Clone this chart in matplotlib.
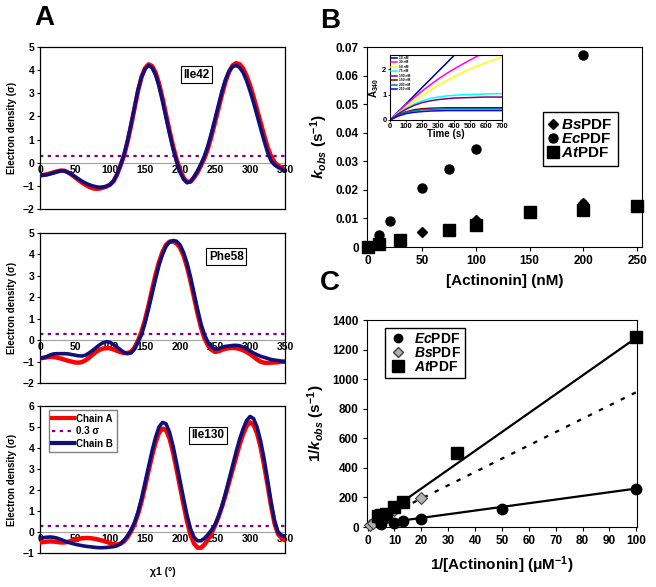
import numpy as np
import matplotlib
matplotlib.use('Agg')
from matplotlib import pyplot as plt
from matplotlib import transforms
from matplotlib.lines import Line2D

plt.rcParams['font.family'] = ['Liberation Sans', 'DejaVu Sans']
plt.rcParams['font.weight'] = 'bold'
plt.rcParams['axes.labelweight'] = 'bold'
plt.rcParams['mathtext.fontset'] = 'custom'
plt.rcParams['mathtext.rm'] = 'Liberation Sans:bold'
plt.rcParams['mathtext.it'] = 'Liberation Sans:italic:bold'
plt.rcParams['mathtext.bf'] = 'Liberation Sans:bold'

# ---- panel A: electron density vs chi1 (every 5 deg) ----
chi = list(range(0, 351, 5))
ile42_a = [-0.55, -0.53, -0.5, -0.46, -0.41, -0.37, -0.34, -0.35, -0.42, -0.52,
           -0.63, -0.75, -0.86, -0.96, -1.04, -1.1, -1.13, -1.12, -1.08, -1.03,
           -0.95, -0.8, -0.52, -0.12, 0.3, 0.9, 1.6, 2.35, 3.1, 3.7,
           4.08, 4.25, 4.18, 3.9, 3.42, 2.78, 2.08, 1.38, 0.72, 0.15,
           -0.3, -0.65, -0.82, -0.82, -0.65, -0.42, -0.12, 0.2, 0.62, 1.15,
           1.75, 2.35, 2.95, 3.5, 3.92, 4.2, 4.3, 4.26, 4.08, 3.76,
           3.35, 2.85, 2.3, 1.75, 1.2, 0.68, 0.28, 0.02, -0.12, -0.22,
           -0.3]
ile42_b = [-0.55, -0.54, -0.52, -0.48, -0.44, -0.39, -0.36, -0.36, -0.42, -0.5,
           -0.6, -0.7, -0.8, -0.88, -0.95, -1.0, -1.04, -1.06, -1.05, -1.02,
           -0.95, -0.8, -0.5, -0.1, 0.35, 0.95, 1.65, 2.4, 3.15, 3.7,
           4.05, 4.2, 4.1, 3.8, 3.3, 2.65, 1.95, 1.25, 0.6, 0.05,
           -0.4, -0.72, -0.87, -0.82, -0.6, -0.35, -0.05, 0.3, 0.75, 1.3,
           1.9, 2.5, 3.1, 3.6, 3.95, 4.15, 4.2, 4.12, 3.9, 3.55,
           3.1, 2.6, 2.05, 1.5, 0.95, 0.45, 0.08, -0.1, -0.2, -0.28,
           -0.36]
phe58_a = [-0.85, -0.82, -0.8, -0.78, -0.79, -0.82, -0.86, -0.91, -0.96, -1.0,
           -1.04, -1.05, -1.02, -0.94, -0.82, -0.68, -0.55, -0.45, -0.39, -0.37,
           -0.38, -0.43, -0.5, -0.56, -0.6, -0.6, -0.54, -0.35, -0.02, 0.4,
           0.95, 1.62, 2.35, 3.05, 3.65, 4.12, 4.45, 4.6, 4.6, 4.52,
           4.32, 3.95, 3.42, 2.75, 2.0, 1.25, 0.58, 0.08, -0.25, -0.45,
           -0.55, -0.52, -0.45, -0.4, -0.37, -0.36, -0.37, -0.41, -0.47, -0.55,
           -0.65, -0.77, -0.9, -1.0, -1.05, -1.06, -1.05, -1.04, -1.03, -1.01,
           -1.0]
phe58_b = [-0.85, -0.82, -0.76, -0.68, -0.64, -0.63, -0.63, -0.63, -0.64, -0.67,
           -0.7, -0.73, -0.74, -0.7, -0.6, -0.48, -0.35, -0.22, -0.12, -0.07,
           -0.1, -0.2, -0.32, -0.45, -0.57, -0.63, -0.6, -0.42, -0.1, 0.25,
           0.8, 1.45, 2.15, 2.85, 3.5, 4.0, 4.38, 4.58, 4.65, 4.62,
           4.45, 4.1, 3.6, 2.95, 2.2, 1.45, 0.75, 0.25, -0.1, -0.32,
           -0.42, -0.4, -0.33, -0.29, -0.27, -0.25, -0.24, -0.26, -0.32, -0.4,
           -0.5, -0.6, -0.68, -0.75, -0.8, -0.85, -0.9, -0.93, -0.95, -0.98,
           -1.0]
ile130_a = [-0.5, -0.48, -0.46, -0.45, -0.46, -0.48, -0.5, -0.5, -0.47, -0.42,
            -0.37, -0.33, -0.3, -0.29, -0.29, -0.31, -0.34, -0.38, -0.42, -0.47,
            -0.53, -0.58, -0.6, -0.56, -0.45, -0.25, 0.02, 0.38, 0.85, 1.45,
            2.15, 2.9, 3.62, 4.25, 4.72, 4.92, 4.85, 4.45, 3.8, 3.0,
            2.15, 1.3, 0.5, -0.15, -0.55, -0.75, -0.75, -0.6, -0.35, -0.05,
            0.3, 0.72, 1.2, 1.75, 2.35, 2.95, 3.55, 4.15, 4.65, 5.05,
            5.22, 5.1, 4.7, 4.05, 3.2, 2.25, 1.25, 0.4, -0.1, -0.3,
            -0.4]
ile130_b = [-0.3, -0.27, -0.25, -0.24, -0.26, -0.3, -0.36, -0.43, -0.49, -0.54,
            -0.58, -0.62, -0.65, -0.68, -0.7, -0.72, -0.74, -0.75, -0.75, -0.74,
            -0.72, -0.7, -0.66, -0.56, -0.4, -0.18, 0.1, 0.45, 0.95, 1.6,
            2.35, 3.1, 3.85, 4.5, 5.0, 5.22, 5.15, 4.75, 4.1, 3.3,
            2.45, 1.6, 0.8, 0.15, -0.25, -0.42, -0.42, -0.3, -0.12, 0.1,
            0.35, 0.75, 1.25, 1.85, 2.5, 3.15, 3.8, 4.4, 4.9, 5.3,
            5.5, 5.4, 5.0, 4.35, 3.5, 2.5, 1.45, 0.55, 0.0, -0.15,
            -0.22]
cutoff = 0.3
chi_ticks = [0, 50, 100, 150, 200, 250, 300, 350]

# ---- panel B: kobs vs [actinonin] ----
conc_ec = [10, 20, 50, 75, 100, 200]
kobs_ec = [0.0043, 0.0091, 0.0207, 0.0274, 0.0343, 0.0672]
conc_bs = [50, 100, 150, 200, 250]
kobs_bs = [0.0054, 0.0096, 0.0125, 0.0154, 0.0145]
err_bs = [0.0003, 0.0007, 0.0004, 0.0012, 0.0004]
conc_at = [0, 10, 30, 75, 100, 150, 200, 250]
kobs_at = [0.0, 0.0012, 0.0023, 0.0061, 0.0076, 0.0123, 0.0128, 0.0143]

# inset progress curves (A340 vs time)
inset_labels = ['10 nM', '30 nM', '50 nM', '75 nM', '100 nM', '150 nM', '200 nM', '250 nM']
inset_colors = ['#000080', '#FF00FF', '#FFFF00', '#00FFFF', '#800080', '#800000', '#008080', '#0000FF']
t_s = [0, 50, 100, 150, 200, 250, 300, 350, 400, 450, 500, 550, 600, 650, 700]
a340 = [
    [0, 0.32, 0.63, 0.95, 1.27, 1.58, 1.9, 2.21, 2.53, 2.85, 3.16, 3.48, 3.8, 4.1, 4.4],
    [0, 0.31, 0.6, 0.87, 1.13, 1.37, 1.6, 1.81, 2.0, 2.18, 2.35, 2.52, 2.68, 2.83, 2.97],
    [0, 0.26, 0.5, 0.73, 0.95, 1.16, 1.35, 1.53, 1.7, 1.86, 2.0, 2.13, 2.25, 2.36, 2.47],
    [0, 0.25, 0.45, 0.62, 0.75, 0.84, 0.9, 0.94, 0.97, 0.99, 1.0, 1.01, 1.02, 1.03, 1.03],
    [0, 0.23, 0.42, 0.57, 0.68, 0.75, 0.8, 0.83, 0.86, 0.87, 0.88, 0.89, 0.9, 0.9, 0.9],
    [0, 0.2, 0.32, 0.4, 0.44, 0.46, 0.47, 0.48, 0.48, 0.48, 0.48, 0.48, 0.48, 0.48, 0.48],
    [0, 0.18, 0.3, 0.36, 0.4, 0.42, 0.43, 0.44, 0.44, 0.44, 0.44, 0.44, 0.44, 0.44, 0.44],
    [0, 0.15, 0.25, 0.3, 0.33, 0.35, 0.36, 0.37, 0.37, 0.37, 0.37, 0.37, 0.37, 0.37, 0.37],
]

# ---- panel C: double reciprocal ----
inv_ec = [5, 10, 13.3, 20, 50, 100]
invk_ec = [18, 30, 40, 55, 120, 260]
inv_bs = [1, 2, 4, 5, 10, 20]
invk_bs = [15, 27, 50, 70, 115, 195]
inv_at = [4, 5, 6.7, 10, 13.3, 33.3, 100]
invk_at = [72, 80, 90, 135, 170, 500, 1285]
# linear fits: slope, intercept, x range
fit_ec = [2.48, 12, 1, 100]
fit_bs = [9.0, 12, 0.5, 100]
fit_at = [12.75, 5, 2, 100]

fig = plt.figure(figsize=(6.56, 5.87), dpi=100)


def bold_ticks(ax):
    for lab in ax.get_xticklabels() + ax.get_yticklabels():
        lab.set_fontweight('bold')


def density_panel(rect, a, b, ylim, name, name_xy):
    ax = fig.add_axes(rect)
    ax.axhline(0, color='#a0a0a0', lw=0.8, zorder=1)
    ax.axhline(cutoff, color='#800080', lw=1.6, ls=(0, (1.5, 2)), zorder=2)
    ax.plot(chi, a, color='#ff0000', lw=3.2, solid_capstyle='round', zorder=3)
    ax.plot(chi, b, color='#10107a', lw=2.6, solid_capstyle='round', zorder=4)
    ax.set_xlim(0, 350)
    ax.set_ylim(*ylim)
    ax.set_yticks(range(ylim[0], ylim[1] + 1))
    ax.set_xticks([])
    ax.tick_params(axis='y', labelsize=7.5, length=2, width=0.8, pad=2)
    bold_ticks(ax)
    ax.set_ylabel('Electron density (σ)', fontsize=7, labelpad=4, fontweight='bold')
    off = transforms.offset_copy(ax.transData, fig=fig, y=-1.5, units='points')
    for t in chi_ticks:
        ax.text(t, 0, str(t), transform=off, ha='center', va='top', fontsize=7.5,
                fontweight='bold', zorder=1)
    ax.text(name_xy[0], name_xy[1], name, fontsize=8.5, ha='center', va='center', zorder=5,
            fontweight='bold',
            bbox=dict(boxstyle='square,pad=0.2', fc='white', ec='black', lw=0.8))
    for s in ax.spines.values():
        s.set_linewidth(0.9)
    return ax


ax1 = density_panel([0.061, 0.644, 0.3735, 0.276], ile42_a, ile42_b, (-2, 5), 'Ile42', (223, 3.8))
ax2 = density_panel([0.061, 0.3475, 0.3735, 0.2555], phe58_a, phe58_b, (-2, 5), 'Phe58', (266, 3.9))
ax3 = density_panel([0.061, 0.058, 0.3735, 0.2504], ile130_a, ile130_b, (-1, 6), 'Ile130', (240, 4.6))
ax3.set_xlabel('χ1 (°)', fontsize=7.5, labelpad=10, fontweight='bold')
hA = [Line2D([], [], color='#ff0000', lw=3),
      Line2D([], [], color='#800080', lw=1.6, ls=(0, (1.5, 2))),
      Line2D([], [], color='#10107a', lw=3)]
ax3.legend(hA, ['Chain A', '0.3 σ', 'Chain B'], loc='upper left', bbox_to_anchor=(0.035, 0.97),
           prop={'size': 7, 'weight': 'bold'}, frameon=True, fancybox=False, edgecolor='#808080',
           framealpha=1, handlelength=2.3, handletextpad=0.2, labelspacing=0.25, borderpad=0.35,
           borderaxespad=0)

# ---- panel B ----
axB = fig.add_axes([0.5595, 0.5792, 0.4192, 0.3407])
axB.errorbar(conc_bs, kobs_bs, yerr=err_bs, fmt='D', color='black', ms=5.5, capsize=2.5,
             elinewidth=1, clip_on=False, zorder=3)
axB.plot(conc_ec, kobs_ec, 'o', color='black', ms=6.5, clip_on=False, zorder=3)
axB.plot(conc_at, kobs_at, 's', color='black', ms=8, clip_on=False, zorder=3)
axB.set_xlim(-1, 254.5)
axB.set_ylim(0, 0.07)
axB.set_xticks([0, 50, 100, 150, 200, 250])
axB.set_yticks([0, 0.01, 0.02, 0.03, 0.04, 0.05, 0.06, 0.07])
axB.set_yticklabels(['0', '0.01', '0.02', '0.03', '0.04', '0.05', '0.06', '0.07'])
axB.tick_params(labelsize=8.5, length=3, width=0.8, pad=3)
bold_ticks(axB)
axB.set_xlabel('[Actinonin] (nM)', fontsize=11, labelpad=5, fontweight='bold')
axB.set_ylabel(r'$k_{obs}$ (s$^{-1}$)', fontsize=11, labelpad=4, fontweight='bold')
hB = [Line2D([], [], marker='D', ls='', color='black', ms=5),
      Line2D([], [], marker='o', ls='', color='black', ms=6.5),
      Line2D([], [], marker='s', ls='', color='black', ms=8)]
axB.legend(hB, [r'$Bs$PDF', r'$Ec$PDF', r'$At$PDF'], loc='upper left', bbox_to_anchor=(0.64, 0.675),
           prop={'size': 11, 'weight': 'bold'}, fancybox=False, edgecolor='black', framealpha=1,
           handlelength=0.5, handletextpad=0.25, labelspacing=0.0, borderpad=0.4, borderaxespad=0)

axI = fig.add_axes([0.5945, 0.7956, 0.1707, 0.1107])
for lab, col, ys in zip(inset_labels, inset_colors, a340):
    axI.plot(t_s, ys, color=col, lw=1.1, label=lab)
axI.set_xlim(0, 700)
axI.set_ylim(0, 2.55)
axI.set_xticks(range(0, 701, 100))
axI.set_yticks([0, 1, 2])
axI.tick_params(labelsize=5.5, length=1.5, width=0.6, pad=1)
bold_ticks(axI)
axI.set_xlabel('Time (s)', fontsize=7, labelpad=-1, fontweight='bold')
axI.set_ylabel('A$_{340}$', fontsize=7, labelpad=1, fontweight='bold')
axI.legend(loc='upper left', prop={'size': 2.3, 'weight': 'bold'}, frameon=False, handlelength=1.8,
           labelspacing=0.15, borderaxespad=0.2, borderpad=0.1)

# ---- panel C ----
axC = fig.add_axes([0.5595, 0.1022, 0.4116, 0.3526])
for fit, ls in [(fit_ec, '-'), (fit_bs, (0, (2, 3.5))), (fit_at, '-')]:
    xs = np.array(fit[2:4])
    axC.plot(xs, fit[0] * xs + fit[1], color='black', lw=1.6, ls=ls, zorder=2)
axC.plot(inv_bs, invk_bs, 'D', color='#b0b0b0', mec='#404040', mew=0.8, ms=6, clip_on=False, zorder=3)
axC.plot(inv_ec, invk_ec, 'o', color='black', ms=7.5, clip_on=False, zorder=4)
axC.plot(inv_at, invk_at, 's', color='black', ms=8.5, clip_on=False, zorder=4)
axC.set_xlim(-0.2, 100.3)
axC.set_ylim(0, 1400)
axC.set_xticks(range(0, 101, 10))
axC.set_yticks(range(0, 1401, 200))
axC.tick_params(labelsize=8.5, length=3, width=0.8, pad=3)
bold_ticks(axC)
axC.set_xlabel(r'1/[Actinonin] (μM$^{-1}$)', fontsize=11, labelpad=5, fontweight='bold')
axC.set_ylabel(r'1/$k_{obs}$ (s$^{-1}$)', fontsize=11, labelpad=4, fontweight='bold')
hC = [Line2D([], [], marker='o', ls='', color='black', ms=6),
      Line2D([], [], marker='D', ls='', color='#b0b0b0', mec='#404040', ms=5),
      Line2D([], [], marker='s', ls='', color='black', ms=8)]
axC.legend(hC, [r'$Ec$PDF', r'$Bs$PDF', r'$At$PDF'], loc='upper left', bbox_to_anchor=(0.067, 0.962),
           prop={'size': 10, 'weight': 'bold'}, fancybox=False, edgecolor='black', framealpha=1,
           handlelength=1.2, handletextpad=0.6, labelspacing=0.0, borderpad=0.3, borderaxespad=0)

fig.text(44 / 656, 1 - 18 / 587, 'A', fontsize=20, ha='center', va='center', fontweight='bold')
fig.text(330 / 656, 1 - 21 / 587, 'B', fontsize=20, ha='center', va='center', fontweight='bold')
fig.text(330 / 656, 1 - 283 / 587, 'C', fontsize=20, ha='center', va='center', fontweight='bold')

fig.savefig('out.png', dpi=100)
